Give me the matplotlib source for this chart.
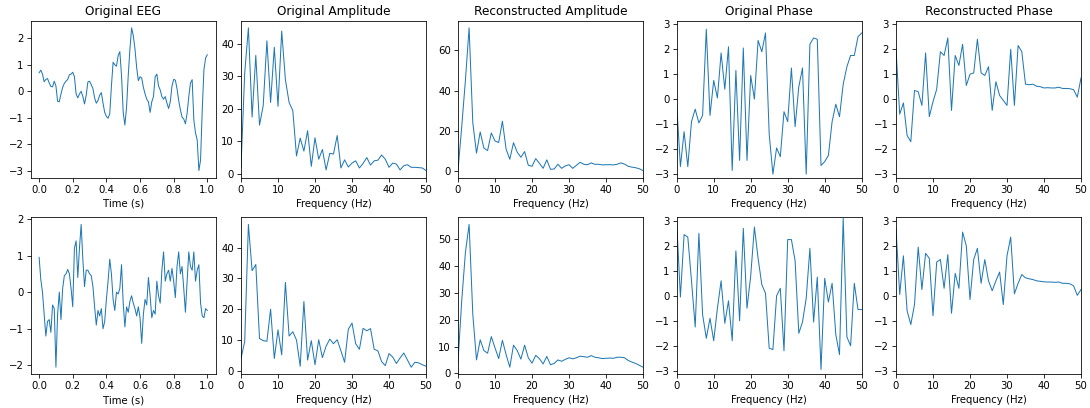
import numpy as np
import matplotlib
matplotlib.use("Agg")
import matplotlib.pyplot as plt

# ---- data ----
time_s = np.round(np.arange(101) * 0.01, 2)
freqs = np.arange(51)

eeg1 = [0.7, 0.8, 0.65, 0.36, 0.45, 0.48, 0.32, 0.18, 0.17, 0.38,
        0.2, -0.38, -0.4, -0.1, 0.15, 0.3, 0.38, 0.45, 0.62, 0.65,
        0.72, 0.55, -0.1, -0.25, -0.1, 0.0, -0.2, -0.48, -0.15, 0.35,
        0.38, 0.25, 0.1, -0.25, -0.45, -0.35, -0.15, -0.05, -0.45, -0.8,
        -0.95, -1.02, -0.85, 0.2, 1.1, 1.0, 0.95, 1.35, 1.5, 0.6,
        -0.8, -1.28, -0.6, 0.6, 1.6, 2.4, 2.1, 1.6, 0.9, 0.4,
        0.55, 0.5, 0.15, -0.1, -0.3, -0.4, -0.8, -0.4, -0.2, 0.55,
        0.65, 0.2, 0.05, -0.2, -0.3, -0.2, -0.45, -0.65, -0.4, 0.2,
        0.45, 0.42, 0.1, -0.35, -0.7, -0.98, -1.05, -1.23, -0.83, -0.2,
        0.31, 0.44, -1.08, -1.58, -1.84, -3.0, -2.6, -0.7, 0.81, 1.26,
        1.38]

eeg2 = [0.95, 0.35, 0.0, -0.6, -1.2, -0.8, -0.75, -1.1, -0.35, -0.45,
        -2.05, -0.6, 0.0, -0.75, 0.1, 0.45, 0.5, 0.62, 0.5, 0.1,
        -0.4, 1.2, 1.4, 0.4, 1.2, 1.85, 0.9, 0.15, 0.6, 0.6,
        0.5, 0.45, 0.15, -0.4, -0.9, -0.5, -0.65, -0.45, -1.0, -0.8,
        -0.2, 0.3, 0.9, 0.5, -0.2, -0.5, 0.0, -0.05, 0.1, 0.75,
        -0.3, -0.95, -0.4, -0.55, -0.25, -0.1, -0.3, -0.45, -0.65, -0.4,
        -0.7, -1.4, -0.6, -0.2, -0.35, 0.4, -0.1, -0.7, -0.5, -0.6,
        0.3, -0.1, -0.3, 0.6, 1.1, 0.3, 0.5, 0.6, 0.3, 0.65,
        0.3, -0.15, 0.7, 1.1, 0.5, 0.7, 0.1, -0.55, 0.3, 1.1,
        0.7, 0.6, 1.1, 0.3, 0.6, 0.75, -0.3, -0.65, -0.7, -0.45,
        -0.5]

orig_amp1 = [2, 31, 45, 17.5, 36.5, 15, 21, 41, 22, 39,
             20.8, 44, 29, 22, 19.5, 5.5, 11, 7, 13.3, 2.3,
             11.1, 4.5, 7.5, 1.2, 6.3, 6.1, 11.8, 1.8, 4.3, 2.1,
             3.3, 4, 1.8, 3.2, 5, 2.7, 4, 4.2, 5.8, 4.5,
             2, 3.3, 3.0, 1.2, 2.5, 2.8, 2, 2, 1.9, 1.8, 1]

rec_amp1 = [0.5, 22, 45, 71, 24, 9, 19.5, 11.5, 10.3, 19,
            15, 14.3, 24.8, 11, 6, 14.2, 9.5, 7, 9.8, 3,
            2.5, 6.3, 4, 1.5, 5.7, 1, 1.2, 3.5, 1.5, 2.7,
            3.3, 1.5, 3, 4.5, 3.5, 3.3, 4.2, 3.5, 3.5, 3.2,
            3.3, 3.3, 3.2, 3.5, 4.2, 3.6, 2.5, 2.1, 1.8, 1.3, 0.4]

orig_ph1 = [-0.2, -2.7, -1.3, -2.7, -0.9, -0.4, -0.95, -0.65, 2.8, -0.65,
            0.75, 0.05, 1.85, 0.4, 2.1, -2.85, 1.15, -2.45, 2.05, -2.45,
            0.95, 0.0, 2.35, 1.9, 2.65, -1.4, -3.0, -1.95, -2.3, -0.5,
            -0.9, 1.25, -1.1, 0.5, 1.25, -3.0, 2.2, 2.45, 2.4, -2.65,
            -2.5, -2.25, -0.9, -0.2, -0.7, 0.6, 1.3, 1.75, 1.75, 2.5, 2.65]

rec_ph1 = [2.0, -0.6, -0.15, -1.45, -1.7, 0.35, 0.3, -0.25, 1.85, -0.7,
           -0.1, 0.4, 1.9, 1.75, 2.45, -0.45, 1.75, 1.35, 2.2, 0.55,
           1.0, 1.05, 2.4, 1.05, 0.95, 1.3, -0.45, 0.7, 0.15, -0.05,
           -0.25, 2.0, -0.25, 2.15, 1.9, 0.6, 0.58, 0.6, 0.52, 0.5,
           0.45, 0.46, 0.45, 0.45, 0.48, 0.43, 0.43, 0.42, 0.38, 0.08, 0.85]

orig_amp2 = [4, 9.5, 47.5, 32.5, 34.5, 10.5, 9.8, 9.6, 20, 4,
             13.3, 5.2, 28.7, 11.3, 12.7, 10, 1.5, 22.5, 3.5, 9.8,
             2, 10.1, 4.3, 8, 10.3, 8.8, 10.1, 6.5, 2.8, 13.5,
             15.5, 8.8, 7, 13.8, 13, 13.7, 7, 6.5, 3, 1.7,
             5.6, 4.5, 2.4, 4.2, 5.8, 3.5, 1.2, 2.8, 2.6, 2, 1.5]

rec_amp2 = [4.2, 27, 45, 55.5, 22, 5, 12.5, 8.5, 7.5, 13.7,
            9.5, 5.5, 12.3, 7, 2.3, 10.5, 8.5, 5.3, 10.5, 5.8,
            3.8, 6.7, 5.5, 3.5, 6.3, 3.2, 3.7, 5, 4.5, 5.2,
            5.8, 5.4, 5.8, 6.4, 6.2, 6, 6.6, 6, 5.8, 5.5,
            5.6, 5.7, 5.6, 6, 6, 5.8, 4.8, 4.2, 3.7, 3, 2.3]

orig_ph2 = [2.95, -0.05, 2.45, 2.35, 0.6, -1.25, 2.5, -0.75, -1.7, -0.9,
            -1.8, -0.5, 0.6, -1.1, -0.2, -1.8, 1.8, -1.0, 2.7, -0.5,
            0.8, 2.75, 1.5, 0.45, 0.1, -2.1, -2.15, 0.0, 0.3, -2.2,
            2.25, 2.25, 1.4, -1.5, -1.05, -0.1, 1.9, -1.05, 0.75, -2.95,
            0.7, -0.25, 0.5, -1.55, -2.35, 3.1, -1.65, -2.0, 0.5, -0.55, -0.55]

rec_ph2 = [2.7, 0.05, 1.6, -0.6, -1.15, -0.35, 1.95, 0.25, 1.7, 1.5,
           -0.8, 1.35, 1.45, 0.3, 1.65, -0.7, 0.9, 0.3, 2.55, 2.0,
           -0.15, 1.45, 1.9, 0.5, 1.45, 0.6, 0.2, 0.6, 0.95, -0.35,
           1.6, 2.35, 0.08, 0.5, 0.85, 0.72, 0.68, 0.65, 0.6, 0.58,
           0.56, 0.55, 0.55, 0.54, 0.55, 0.5, 0.5, 0.48, 0.4, 0.02, 0.25]

titles = ["Original EEG", "Original Amplitude", "Reconstructed Amplitude",
          "Original Phase", "Reconstructed Phase"]
rows = [
    [eeg1, orig_amp1, rec_amp1, orig_ph1, rec_ph1],
    [eeg2, orig_amp2, rec_amp2, orig_ph2, rec_ph2],
]

# ---- figure ----
W, H = 1090, 408
dpi = 72.667
fig = plt.figure(figsize=(W / dpi, H / dpi), dpi=dpi)

col_left = [30.7, 241, 458, 676.7, 896]
ax_w = 185
row_top = [20.7, 217.3]
ax_h = 157

for r in range(2):
    for c in range(5):
        ax = fig.add_axes([col_left[c] / W, 1 - (row_top[r] + ax_h) / H,
                           ax_w / W, ax_h / H])
        data = rows[r][c]
        if c == 0:
            ax.plot(time_s, data, color="C0", lw=1.0)
            ax.set_xlabel("Time (s)")
        else:
            ax.plot(freqs, data, color="C0", lw=1.0)
            ax.set_xlim(0, 50)
            ax.set_xlabel("Frequency (Hz)")
            if c >= 3:
                ax.set_ylim(-np.pi, np.pi)
        if r == 0:
            ax.set_title(titles[c])

fig.savefig("out.png", dpi=dpi)
